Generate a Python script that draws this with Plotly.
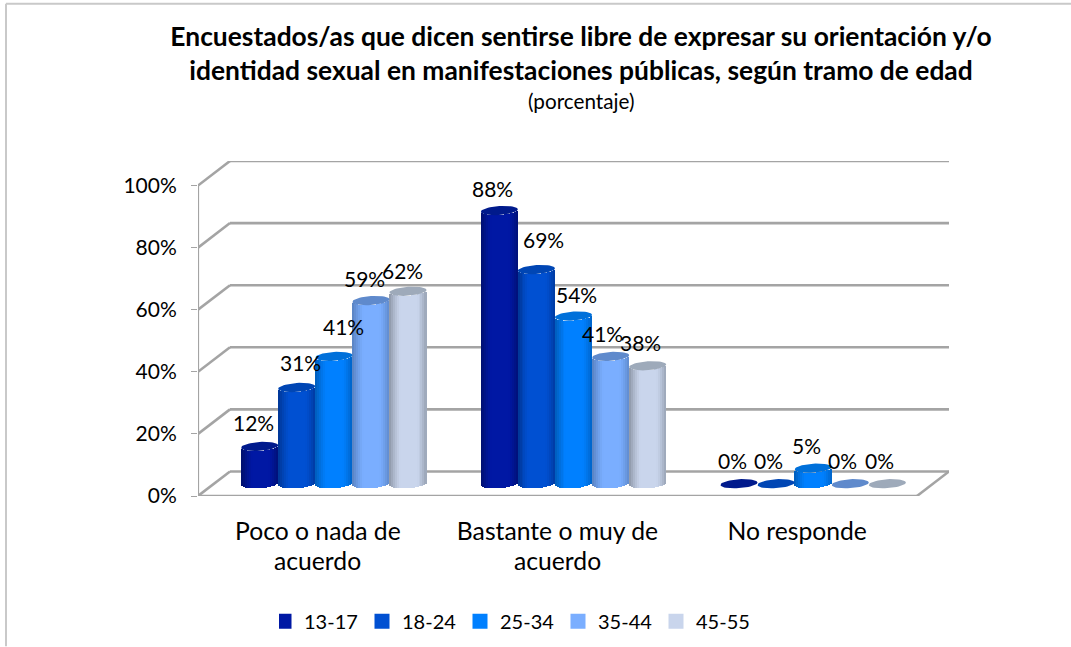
import numpy as np
import plotly.graph_objects as go

categories_line1 = ["Poco o nada de", "Bastante o muy de", "No responde"]
categories_line2 = ["acuerdo", "acuerdo", ""]
series_names = ["13-17", "18-24", "25-34", "35-44", "45-55"]
v_13_17 = [12, 88, 0]
v_18_24 = [31, 69, 0]
v_25_34 = [41, 54, 5]
v_35_44 = [59, 41, 0]
v_45_55 = [62, 38, 0]
series_values = [v_13_17, v_18_24, v_25_34, v_35_44, v_45_55]
y_ticks = [0, 20, 40, 60, 80, 100]

# styles
main_colors = ["#0018A4", "#0050D2", "#0080FF", "#7AAEFF", "#C9D5EC"]
edge_colors = ["#001070", "#00389A", "#0060C0", "#5C86C6", "#939DAE"]
top_colors = ["#001A8C", "#0046B4", "#0070DA", "#5F8ACC", "#9EAABA"]
FONT = "Lato, Carlito, Calibri, sans-serif"
WIDTH, HEIGHT = 1071, 647
L, R, T, B = 198, 949, 161, 496.5
GROUP_PX = 239.67
Y_PX = 3.11
DX = 32 / GROUP_PX
DY = 24.6 / Y_PX
BAR_W = 37.1 / GROUP_PX
ELL_B = 4.5 / Y_PX
ELL_TILT = 1.2 / Y_PX
N = 19

# label nudges (px) relative to the top of each bar
label_dx = [[-6, -6.5, -6.5], [3.5, 7.5, -8], [10, 3, -7], [-6.5, -8, -8], [-6, -7, -8]]
label_dy = [[24, 22, 23], [25, 30, 23], [30, 22, 23], [22, 23, 23], [21, 23, 23]]


def hex2rgb(h):
    return np.array([int(h[i:i + 2], 16) for i in (1, 3, 5)], float)


def strip_color(main, edge, t):
    # cylinder shading: dark edges, flat centre
    s = np.clip((abs(t - 0.05) - 0.45) / 0.55, 0, 1) ** 1.3
    c = hex2rgb(main) * (1 - s) + hex2rgb(edge) * s
    return "rgb(%d,%d,%d)" % tuple(c)


fig = go.Figure()
ts = (np.arange(N) + 0.5) / N * 2 - 1
strip_w = BAR_W / N
theta = np.linspace(0, 2 * np.pi, 49)
annotations = []

for i, vals in enumerate(series_values):
    xs, bases, ys, cols = [], [], [], []
    ex, ey = [], []
    for g, v in enumerate(vals):
        cx = g + 0.5 + DX / 2 + (i - 2) * BAR_W
        for t in ts:
            xs.append(cx + t * BAR_W / 2)
            bases.append(DY / 2 - ELL_B * np.sqrt(1 - t * t) + ELL_TILT * t)
            ys.append(v)
            cols.append(strip_color(main_colors[i], edge_colors[i], t))
        ct, st = np.cos(theta), np.sin(theta)
        ex += list(cx + ct * BAR_W / 2) + [None]
        ey += list(v + DY / 2 + ELL_B * st + ELL_TILT * ct) + [None]
        annotations.append(dict(
            x=cx, y=v + DY / 2, xref="x", yref="y", text=f"{v}%", showarrow=False,
            xshift=label_dx[i][g], yshift=label_dy[i][g],
            font=dict(family=FONT, size=21, color="#000"),
            xanchor="center", yanchor="middle"))
    fig.add_trace(go.Bar(x=xs, y=ys, base=bases, width=strip_w * 1.25,
                         marker=dict(color=cols, line_width=0),
                         showlegend=False, hoverinfo="skip"))
    fig.add_trace(go.Scatter(x=ex, y=ey, mode="lines", fill="toself",
                             fillcolor=top_colors[i], line=dict(width=0),
                             showlegend=False, hoverinfo="skip"))
    fig.add_trace(go.Scatter(x=[None], y=[None], mode="markers", name=series_names[i],
                             marker=dict(symbol="square", size=15, color=main_colors[i])))

# walls and floor
WALL = "#A4A4A4"
shapes = []


def wall(x0, y0, x1, y1, w=2.6, color=WALL):
    shapes.append(dict(type="line", xref="x", yref="y", x0=x0, y0=y0, x1=x1, y1=y1,
                       line=dict(color=color, width=w), layer="below"))


for y in y_ticks:
    wall(0, y, DX, y + DY)
    wall(DX, y + DY, 3 + DX, y + DY)
wall(0, 0, 3, 0)
wall(3, 0, 3 + DX, DY)
wall(0, 0, 0, 100, w=2.2)

# chart outer border
BORDER = "#C9C9C9"
shapes.append(dict(type="line", xref="paper", yref="paper",
                   x0=(6 - L) / (R - L), x1=(WIDTH - L) / (R - L),
                   y0=(B - 3.5) / (B - T), y1=(B - 3.5) / (B - T),
                   line=dict(color=BORDER, width=2)))
shapes.append(dict(type="line", xref="paper", yref="paper",
                   x0=(6 - L) / (R - L), x1=(6 - L) / (R - L),
                   y0=(B - 3.5) / (B - T), y1=(B - HEIGHT) / (B - T),
                   line=dict(color=BORDER, width=2)))


def px_x(p):
    return (p - L) / (R - L)


def px_y(p):
    return (B - p) / (B - T)


# second line of the category labels
for g, s in enumerate(categories_line2):
    if s:
        annotations.append(dict(x=g + 0.5, xref="x", y=px_y(561.5), yref="paper", text=s,
                                showarrow=False, yanchor="middle",
                                font=dict(family=FONT, size=24.7, color="#000")))
# subtitle
annotations.append(dict(x=px_x(581), xref="paper", y=px_y(101), yref="paper",
                        text="(porcentaje)", showarrow=False, yanchor="middle",
                        font=dict(family=FONT, size=20.7, color="#000")))

fig.update_layout(
    width=WIDTH, height=HEIGHT, autosize=False,
    margin=dict(l=L, r=WIDTH - R, t=T, b=HEIGHT - B, autoexpand=False),
    paper_bgcolor="white", plot_bgcolor="white",
    barmode="overlay", bargap=0,
    font=dict(family=FONT, color="#000"),
    title=dict(
        text="<b>Encuestados/as que dicen sentirse libre de expresar su orientación y/o<br>"
             "identidad sexual en manifestaciones públicas, según tramo de edad</b>",
        x=581 / WIDTH, xanchor="center", xref="container", y=1 - 46 / HEIGHT, yanchor="middle",
        font=dict(family=FONT, size=26.4, color="#000")),
    xaxis=dict(range=[0, 3 + DX], showgrid=False, zeroline=False, showline=False,
               tickmode="array", tickvals=[g + 0.5 for g in range(3)],
               ticktext=categories_line1, ticks="", ticklabelstandoff=18,
               tickfont=dict(family=FONT, size=24.7, color="#000")),
    yaxis=dict(range=[0, 100 + DY], showgrid=False, zeroline=False, showline=False,
               tickmode="array", tickvals=y_ticks, ticktext=[f"{y}%" for y in y_ticks],
               ticks="outside", ticklen=6, tickwidth=1, tickcolor=WALL, ticklabelstandoff=10,
               tickfont=dict(family=FONT, size=21, color="#000")),
    legend=dict(orientation="h", x=px_x(279), xanchor="left", y=px_y(622), yanchor="middle",
                entrywidth=68, entrywidthmode="pixels", indentation=-15,
                font=dict(family=FONT, size=20, color="#000"), bgcolor="rgba(0,0,0,0)",
                tracegroupgap=0),
    shapes=shapes, annotations=annotations,
)

fig.write_html("out.html", post_script="document.body.style.margin='0';",
               config={"displayModeBar": False})
